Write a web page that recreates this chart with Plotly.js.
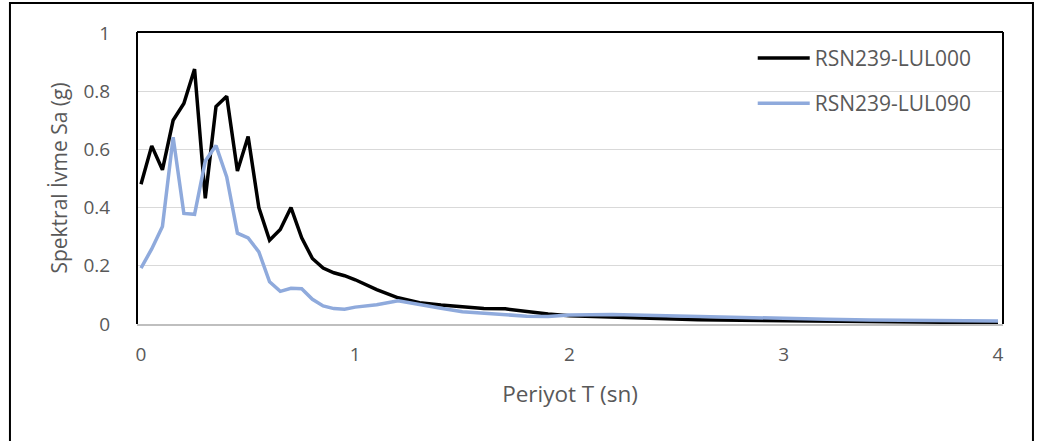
<!DOCTYPE html>
<html>
<head>
<meta charset="utf-8">
<script src="https://cdn.plot.ly/plotly-3.0.1.min.js"></script>
<style>html,body{margin:0;padding:0;background:#fff;}#chart{width:1041px;height:441px;}</style>
</head>
<body>
<div id="chart"></div>
<script>
const periods = [0, 0.05, 0.1, 0.15, 0.2, 0.25, 0.3, 0.35, 0.4, 0.45, 0.5, 0.55, 0.6, 0.65, 0.7, 0.75, 0.8, 0.85, 0.9, 0.95, 1.0,
  1.1, 1.2, 1.3, 1.4, 1.5, 1.6, 1.7, 1.8, 1.9, 2.0, 2.2, 2.4, 2.6, 2.8, 3.0, 3.2, 3.4, 3.6, 3.8, 4.0];
const lul000 = [0.48, 0.612, 0.53, 0.70, 0.758, 0.876, 0.432, 0.747, 0.783, 0.526, 0.644, 0.40, 0.288, 0.325, 0.40, 0.296, 0.225, 0.192, 0.176, 0.166, 0.152,
  0.118, 0.090, 0.073, 0.065, 0.059, 0.053, 0.052, 0.042, 0.034, 0.028, 0.023, 0.018, 0.015, 0.013, 0.011, 0.009, 0.007, 0.006, 0.005, 0.004];
const lul090 = [0.192, 0.258, 0.335, 0.642, 0.38, 0.377, 0.56, 0.613, 0.505, 0.312, 0.296, 0.248, 0.145, 0.112, 0.123, 0.121, 0.085, 0.062, 0.053, 0.051, 0.058,
  0.066, 0.080, 0.066, 0.054, 0.042, 0.037, 0.032, 0.027, 0.026, 0.031, 0.033, 0.029, 0.025, 0.021, 0.018, 0.016, 0.014, 0.013, 0.011, 0.010];
const seriesNames = ['RSN239-LUL000', 'RSN239-LUL090'];
const xTicks = [0, 1, 2, 3, 4];
const yTicks = [0, 0.2, 0.4, 0.6, 0.8, 1];
const yTickText = ['0', '0.2', '0.4', '0.6', '0.8', '1'];

const FONT = 'Open Sans, Noto Sans, sans-serif';
const GRAY = '#595959';

const traces = [
  {x: periods, y: lul000, name: seriesNames[0], mode: 'lines', type: 'scatter',
   line: {color: '#000000', width: 3.5}, legendgroup: 'a'},
  {x: periods, y: lul090, name: seriesNames[1], mode: 'lines', type: 'scatter',
   line: {color: '#8FAADC', width: 3.5}, legendgroup: 'b'}
];

const layout = {
  width: 1041, height: 441,
  margin: {l: 137, r: 38, t: 32, b: 117, pad: 0},
  paper_bgcolor: '#ffffff', plot_bgcolor: '#ffffff',
  font: {family: FONT, color: GRAY},
  showlegend: true,
  legend: {x: 0.711, xanchor: 'left', y: 0.98, yanchor: 'top', bgcolor: 'rgba(0,0,0,0)',
    font: {family: FONT, size: 21, color: GRAY}, traceorder: 'grouped', tracegroupgap: 15, itemwidth: 52},
  xaxis: {range: [-0.0187, 4.0233], tickmode: 'array', tickvals: xTicks, ticktext: xTicks.map(String),
    showgrid: false, zeroline: false, showline: true, linecolor: '#bfbfbf', linewidth: 2,
    ticks: 'outside', ticklen: 12, tickcolor: 'rgba(0,0,0,0)', tickfont: {family: FONT, size: 19, color: GRAY},
    title: {text: 'Periyot T (sn)', font: {family: FONT, size: 22.5, color: GRAY}, standoff: 20}},
  yaxis: {range: [0, 1.0034], tickmode: 'array', tickvals: yTicks, ticktext: yTickText,
    showgrid: true, gridcolor: '#d9d9d9', gridwidth: 1, zeroline: false, showline: false,
    ticks: 'outside', ticklen: 22, tickcolor: 'rgba(0,0,0,0)', tickfont: {family: FONT, size: 19, color: GRAY},
    title: {text: 'Spektral İvme Sa (g)', font: {family: FONT, size: 21, color: GRAY}, standoff: 10}},
  shapes: [
    {type: 'line', xref: 'paper', yref: 'paper', x0: 0, x1: 0, y0: 0, y1: 1, line: {color: '#000', width: 2}},
    {type: 'line', xref: 'paper', yref: 'paper', x0: 0, x1: 1, y0: 1, y1: 1, line: {color: '#000', width: 2}},
    {type: 'line', xref: 'paper', yref: 'paper', x0: 1, x1: 1, y0: 0, y1: 1, line: {color: '#000', width: 2}},
    {type: 'rect', xref: 'paper', yref: 'paper', x0: -0.1467, x1: 1.0346, y0: -0.42, y1: 1.0993,
     line: {color: '#000', width: 2}, fillcolor: 'rgba(0,0,0,0)'}
  ]
};

Plotly.newPlot('chart', traces, layout, {staticPlot: true, displayModeBar: false});
</script>
</body>
</html>
